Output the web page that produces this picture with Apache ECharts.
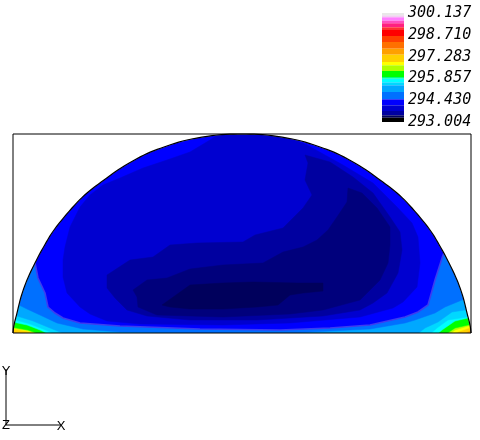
<!DOCTYPE html>
<html><head><meta charset="utf-8">
<style>html,body{margin:0;padding:0;background:#fff}#c{width:480px;height:440px}</style>
<script src="https://cdn.jsdelivr.net/npm/echarts@6/dist/echarts.min.js"></script></head>
<body><div id="c"></div>
<script>
// Legend scale
const legendTicks = [300.137, 298.710, 297.283, 295.857, 294.430, 293.004];
const legendEdges = [300.137,299.986,299.855,299.633,299.463,299.201,299.024,298.632,298.239,297.801,297.408,296.930,296.714,296.341,295.949,295.838,295.602,295.406,294.967,294.489,294.097,293.724,293.442,293.285,293.004];
const legendColors = ['#e8e8e8','#f0d0f0','#ff80ff','#ff50c0','#ff2080','#ff3030','#ff0000','#ff4000','#ff7000','#ffa000','#ffd000','#ffff00','#b0ff00','#00ff00','#00ff80','#00ffff','#00d8ff','#00a8ff','#0070ff','#0000ff','#0000d0','#0000a0','#000060','#000000'];

// Domain extent and outline (chart units)
const extentX = [13, 471];
const extentY = [134, 333];
const domainOutline = [[13,333],[14,325],[17,313],[21,297],[27,280],[35,263],[43,248],[54,230],[72,208],[87,193],[104,180],[121,168],[144,155],[164,147],[187,140],[217,135],[242,134],[267,135],[297,140],[320,147],[340,155],[363,168],[380,180],[397,193],[412,208],[430,230],[441,248],[449,263],[457,280],[463,297],[467,313],[470,325],[471,333]];

// Temperature contours: each region is everything cooler than its level
const contourOrange = [[0,331],[14,332],[27,333],[30,336],[460,336],[469,331],[480,329],[480,120],[0,120]];
const contourAmber = [[0,328],[14,329],[27,331],[40,336],[450,336],[460,331],[469,328],[480,326],[480,120],[0,120]];
const contourYellow = [[0,329],[14,328.5],[27,330.5],[42,336],[447,336],[455,330],[468,326],[480,325],[480,120],[0,120]];
const contourLime = [[0,327],[14,327.5],[28,330],[45,336],[443,336],[455,328],[468,325],[480,323],[480,120],[0,120]];
const contourGreen = [[0,322],[15,322.5],[27,325],[40,330],[53,336],[435,336],[442,330],[455,321],[468,318],[480,316],[480,120],[0,120]];
const contourCyan = [[0,320],[16,320],[30,324],[43,329],[60,336],[428,336],[437,328],[448,320],[467,317],[480,315],[480,120],[0,120]];
const contourSky = [[0,315],[17,316],[33,321],[50,328],[70,336],[415,336],[425,328],[438,322],[452,312],[465,310],[480,308],[480,120],[0,120]];
const contourAzure = [[0,305],[19,305],[27,309],[40,315],[57,323],[83,329],[120,332],[200,333],[300,332.5],[370,329],[405,323],[415,320],[435,313],[445,307],[462,300],[480,296],[480,120],[0,120]];
const contourBlue = [[27,255],[35,263],[38,278],[45,293],[48,307],[55,313],[63,318],[80,323],[120,326],[200,329],[280,330],[330,328],[370,325],[405,317],[418,312],[428,305],[435,280],[443,255],[452,240],[452,120],[27,120]];
const contourMid = [[65,247],[70,227],[80,207],[90,195],[103,185],[120,178],[143,168],[167,160],[190,152],[210,140],[225,130],[270,130],[307,145],[343,165],[373,183],[397,207],[412,223],[418,237],[420,263],[417,287],[403,302],[393,308],[360,317],[290,323],[223,325],[140,324],[107,321],[90,314],[80,307],[67,293],[63,277],[63,260]];
const contourDeep = [[107,275],[130,260],[153,257],[170,245],[197,243],[243,242],[255,235],[283,228],[303,208],[312,195],[305,180],[308,163],[305,155],[330,162],[353,177],[373,193],[390,217],[400,232],[402,250],[398,273],[387,293],[373,303],[360,310],[323,316],[257,320],[190,320],[147,316],[127,310],[115,298],[107,288]];
const contourNavy = [[133,290],[147,280],[167,278],[190,269],[223,265],[263,263],[283,252],[303,247],[317,240],[328,230],[337,217],[347,202],[348,188],[362,193],[377,208],[390,227],[390,245],[388,263],[380,280],[367,293],[360,300],[323,310],[290,314],[223,317],[157,315],[138,307],[137,297]];
const contourCore = [[162,305],[190,285],[223,283],[253,282],[297,283],[323,283],[323,291],[303,293],[290,295],[278,305],[257,307],[223,309],[190,309],[170,307]];
const domainBack = [[0,120],[480,120],[480,340],[0,340]];

// smooth the hand-read outline for drawing only
function rounded(pts){
  const out=[];
  for(let i=0;i<pts.length-1;i++){
    const a=pts[Math.max(i-1,0)],b=pts[i],c=pts[i+1],d=pts[Math.min(i+2,pts.length-1)];
    for(let k=0;k<6;k++){
      const t=k/6,t2=t*t,t3=t2*t;
      out.push([0,1].map(j=>0.5*(2*b[j]+(c[j]-a[j])*t+(2*a[j]-5*b[j]+4*c[j]-d[j])*t2+(3*b[j]-a[j]-3*c[j]+d[j])*t3)));
    }
  }
  out.push(pts[pts.length-1]);
  return out;
}
const outlineDrawn = rounded(domainOutline);

const layers = [
  {pts:domainBack, fill:'#ffa000'},
  {pts:contourOrange, fill:'#ffd000'},
  {pts:contourAmber, fill:'#ffff00'},
  {pts:contourYellow, fill:'#b0ff00'},
  {pts:contourLime, fill:'#00ff00'},
  {pts:contourGreen, fill:'#00ffff'},
  {pts:contourCyan, fill:'#00d8ff'},
  {pts:contourSky, fill:'#00a8ff'},
  {pts:contourAzure, fill:'#0070ff'},
  {pts:contourBlue, fill:'#0000ff', line:'#3c3cf0', lw:1.6},
  {pts:contourMid, fill:'#0000d0'},
  {pts:contourDeep, fill:'#0000a0'},
  {pts:contourNavy, fill:'#00007c'},
  {pts:contourCore, fill:'#00005c'},
  {pts:outlineDrawn.concat([[extentX[1],extentY[0]],[extentX[0],extentY[0]]]), fill:'#ffffff'}
];

const chart = echarts.init(document.getElementById('c'), null, {renderer:'canvas'});
chart.setOption({
  animation:false,
  backgroundColor:'#ffffff',
  grid:[
    {left:13, top:134, width:458, height:199, show:false},
    {left:382, top:13, width:22, height:109, show:false}
  ],
  xAxis:[
    {gridIndex:0, type:'value', min:extentX[0], max:extentX[1], show:false},
    {gridIndex:1, type:'value', min:0, max:1, show:false}
  ],
  yAxis:[
    {gridIndex:0, type:'value', min:extentY[0], max:extentY[1], inverse:true, show:false},
    {gridIndex:1, type:'value', min:legendTicks[5], max:legendTicks[0], position:'right',
     splitLine:{show:false}, axisLine:{show:false}, axisTick:{show:false},
     axisLabel:{customValues:legendTicks, margin:4, color:'#000', fontStyle:'italic', padding:[2,0,0,0],
       fontFamily:'DejaVu Sans Mono', fontSize:15, formatter:v=>Number(v).toFixed(3)}}
  ],
  series:[
    {type:'custom', coordinateSystem:'cartesian2d', xAxisIndex:0, yAxisIndex:0, clip:true, silent:true,
     data:layers.map((l,i)=>[i,0]),
     renderItem:(p,api)=>{
       const l = layers[api.value(0)];
       return {type:'polygon', shape:{points:l.pts.map(q=>api.coord(q))},
         style:{fill:l.fill, stroke:l.line||l.fill, lineWidth:l.lw||0.5}};
     }},
    {type:'custom', coordinateSystem:'cartesian2d', xAxisIndex:0, yAxisIndex:0, clip:false, silent:true, z:5,
     data:[[0,0]],
     renderItem:(p,api)=>({type:'group', children:[
       {type:'polyline', shape:{points:outlineDrawn.map(q=>api.coord(q))}, style:{fill:'none', stroke:'#000', lineWidth:1.2}},
       {type:'polygon', shape:{points:[[extentX[0],extentY[0]],[extentX[1],extentY[0]],[extentX[1],extentY[1]],[extentX[0],extentY[1]]].map(q=>api.coord(q))}, style:{fill:'none', stroke:'#000', lineWidth:1}}
     ]})},
    {type:'custom', coordinateSystem:'cartesian2d', xAxisIndex:1, yAxisIndex:1, clip:false, silent:true,
     data:legendColors.map((c,i)=>[i,0]),
     renderItem:(p,api)=>{
       const i = api.value(0);
       const a = api.coord([0,legendEdges[i]]), b = api.coord([1,legendEdges[i+1]]);
       return {type:'rect', shape:{x:a[0],y:a[1],width:b[0]-a[0],height:b[1]-a[1]}, style:{fill:legendColors[i]}};
     }}
  ],
  graphic:[
    {type:'line', shape:{x1:6,y1:369,x2:6,y2:425}, style:{stroke:'#000',lineWidth:1}},
    {type:'line', shape:{x1:6,y1:425,x2:61,y2:425}, style:{stroke:'#000',lineWidth:1}},
    {type:'text', x:6, y:371, style:{text:'Y', fill:'#000', font:'13px "Liberation Sans"', align:'center', verticalAlign:'middle'}},
    {type:'text', x:61, y:426, style:{text:'X', fill:'#000', font:'13px "Liberation Sans"', align:'center', verticalAlign:'middle'}},
    {type:'text', x:6, y:425, style:{text:'Z', fill:'#000', font:'13px "Liberation Sans"', align:'center', verticalAlign:'middle'}}
  ]
});
</script></body></html>
